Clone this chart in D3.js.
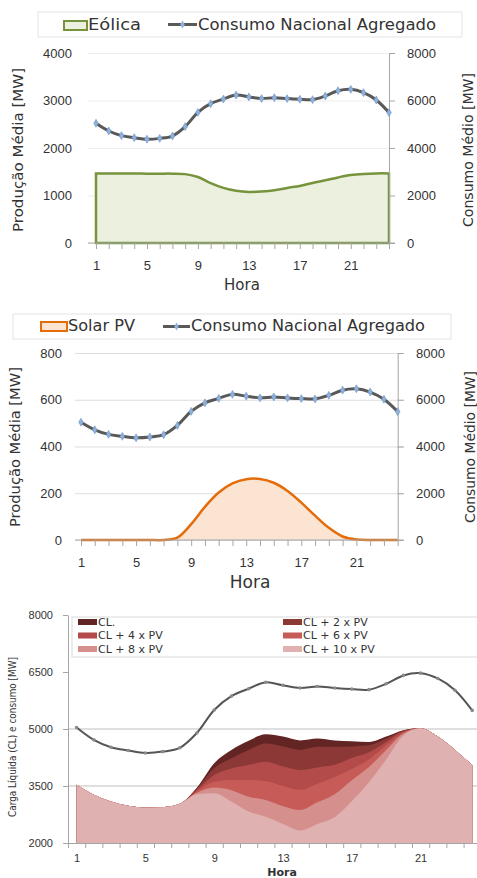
<!DOCTYPE html>
<html>
<head>
<meta charset="utf-8">
<script src="https://cdn.jsdelivr.net/npm/d3@7"></script>
<style>
  body { margin: 0; background: #fff; }
  svg { display: block; font-family: "DejaVu Sans", sans-serif; }
</style>
</head>
<body>
<svg id="chart" width="477" height="878"></svg>
<script>
// ---- data ----
const hours = [1, 2, 3, 4, 5, 6, 7, 8, 9, 10, 11, 12, 13, 14, 15, 16, 17, 18, 19, 20, 21, 22, 23, 24];
const hourLabels = [1, 5, 9, 13, 17, 21];

// Consumo Nacional Agregado [MW]
const consumo = [5040, 4715, 4520, 4435, 4370, 4405, 4505, 4900, 5500, 5865, 6060, 6230, 6150, 6080, 6120, 6080, 6050, 6035, 6190, 6410, 6470, 6330, 6020, 5490];
// Eólica [MW]
const eolica = [1465, 1465, 1465, 1462, 1460, 1460, 1460, 1450, 1390, 1260, 1160, 1100, 1075, 1085, 1110, 1160, 1200, 1265, 1320, 1380, 1430, 1455, 1465, 1465];
// Solar PV [MW]
const solarPV = [0, 0, 0, 0, 0, 0, 0, 10, 68, 142, 203, 242, 260, 261, 245, 210, 160, 104, 52, 15, 2, 0, 0, 0];

// Carga líquida series [MW]
const cl    = [3530, 3270, 3090, 2980, 2930, 2940, 3030, 3460, 4100, 4450, 4690, 4860, 4800, 4700, 4750, 4700, 4680, 4660, 4800, 4970, 5020, 4800, 4450, 4050];
const cl2pv = [3530, 3270, 3090, 2980, 2930, 2940, 3030, 3440, 3970, 4230, 4450, 4620, 4540, 4450, 4530, 4530, 4540, 4570, 4750, 4960, 5020, 4800, 4450, 4050];
const cl4pv = [3530, 3270, 3090, 2980, 2930, 2940, 3030, 3400, 3790, 3960, 4050, 4140, 4010, 3920, 3990, 4060, 4240, 4390, 4660, 4940, 5020, 4800, 4450, 4050];
const cl6pv = [3530, 3270, 3090, 2980, 2930, 2940, 3030, 3360, 3610, 3660, 3660, 3630, 3500, 3400, 3560, 3740, 3950, 4200, 4570, 4910, 5020, 4800, 4450, 4050];
const cl8pv = [3530, 3270, 3090, 2980, 2930, 2940, 3030, 3320, 3460, 3390, 3220, 3130, 2970, 2870, 3070, 3280, 3650, 4000, 4450, 4880, 5020, 4800, 4450, 4050];
const cl10pv = [3530, 3270, 3090, 2980, 2930, 2940, 3030, 3280, 3310, 3090, 2830, 2690, 2500, 2330, 2500, 2680, 3100, 3600, 4200, 4830, 5020, 4800, 4450, 4050];

const netNames = ["CL.", "CL + 2 x PV", "CL + 4 x PV", "CL + 6 x PV", "CL + 8 x PV", "CL + 10 x PV"];
const netColors = ["#632523", "#8C3836", "#B24B49", "#C65B57", "#D58F8D", "#DFB2B1"];

const ticksEolica = [0, 1000, 2000, 3000, 4000];
const ticksSolar = [0, 200, 400, 600, 800];
const ticksConsumo = [0, 2000, 4000, 6000, 8000];
const ticksCarga = [2000, 3500, 5000, 6500, 8000];

const svg = d3.select("#chart");
const textColor = "#333";
const axisGrey = "#A6A6A6";
const plain = d3.format("d");

// ---- top two panels: production (left axis) vs consumption (right axis) ----
function drawPanel(p) {
    const g = svg.append("g");

    const x = d3.scaleLinear().domain([1, 24]).range([p.left, p.right]);
    const yL = d3.scaleLinear().domain([0, p.leftMax]).range([p.bottom, p.top]);
    const yR = d3.scaleLinear().domain([0, 8000]).range([p.bottom, p.top]);

    // Gridlines + left tick labels
    const leftAxis = g.append("g")
        .attr("transform", `translate(${p.gridStart},0)`)
        .call(d3.axisLeft(yL)
            .tickValues(p.leftTicks)
            .tickFormat(plain)
            .tickSize(-(p.gridEnd - p.gridStart))
            .tickPadding(p.gridStart - p.leftLabelX));
    leftAxis.select(".domain").remove();
    leftAxis.selectAll("line").attr("stroke", p.gridColor);
    leftAxis.selectAll("text").style("font-size", "13px").attr("fill", textColor);

    // Production area (smoothed like the spreadsheet original)
    const curve = d3.curveCatmullRom.alpha(0.5);
    const area = d3.area()
        .x((d, i) => x(hours[i]))
        .y0(yL(0))
        .y1(d => yL(d))
        .curve(curve);
    g.append("path")
        .datum(p.values)
        .attr("d", area)
        .attr("fill", p.fill);
    if (p.closedOutline) {
        g.append("path")
            .datum(p.values)
            .attr("d", area)
            .attr("fill", "none")
            .attr("stroke", p.stroke)
            .attr("stroke-width", 2.5);
    } else {
        g.append("path")
            .datum(p.values)
            .attr("d", d3.line().x((d, i) => x(hours[i])).y(d => yL(d)).curve(curve))
            .attr("fill", "none")
            .attr("stroke", p.stroke)
            .attr("stroke-width", 2.5);
    }

    // Right axis (consumption)
    const rightAxis = g.append("g")
        .attr("transform", `translate(${p.right},0)`)
        .call(d3.axisRight(yR)
            .tickValues(ticksConsumo)
            .tickFormat(plain)
            .tickSize(6)
            .tickSizeOuter(0)
            .tickPadding(p.rightLabelX - p.right - 6));
    rightAxis.select(".domain").attr("stroke", axisGrey);
    rightAxis.selectAll("line").attr("stroke", axisGrey);
    rightAxis.selectAll("text").style("font-size", "13px").attr("fill", textColor);

    // x axis
    g.append("line")
        .attr("x1", p.gridStart).attr("x2", p.right + 6)
        .attr("y1", p.bottom).attr("y2", p.bottom)
        .attr("stroke", axisGrey);
    const xAxis = g.append("g")
        .attr("transform", `translate(0,${p.bottom})`)
        .call(d3.axisBottom(x)
            .tickValues(hours)
            .tickSize(6)
            .tickSizeOuter(0)
            .tickPadding(p.xLabelPad)
            .tickFormat(d => hourLabels.includes(d) ? d : ""));
    xAxis.select(".domain").remove();
    xAxis.selectAll("line").attr("stroke", axisGrey);
    xAxis.selectAll("text").style("font-size", "13px").attr("fill", textColor);

    // Consumption line with diamond markers
    const line = d3.line()
        .x((d, i) => x(hours[i]))
        .y(d => yR(d))
        .curve(curve);
    g.append("path")
        .datum(consumo)
        .attr("d", line)
        .attr("fill", "none")
        .attr("stroke", "#595959")
        .attr("stroke-width", 3);
    g.selectAll(".mk")
        .data(consumo)
        .join("path")
        .attr("transform", (d, i) => `translate(${x(hours[i])},${yR(d)})`)
        .attr("d", d3.symbol(d3.symbolDiamond, 18))
        .attr("fill", "#8FB1DA")
        .attr("stroke", "#6F96C6")
        .attr("stroke-width", 0.6);

    // Axis titles
    g.append("text")
        .attr("x", p.horaX).attr("y", p.horaY)
        .attr("text-anchor", "middle")
        .style("font-size", p.horaSize + "px")
        .attr("fill", textColor)
        .text("Hora");
    g.append("text")
        .attr("transform", `translate(${p.leftTitleX},${p.titleY}) rotate(-90)`)
        .attr("text-anchor", "middle")
        .attr("dy", "0.35em")
        .attr("textLength", p.leftTitleLen)
        .attr("lengthAdjust", "spacingAndGlyphs")
        .style("font-size", "14px")
        .attr("fill", textColor)
        .text("Produção Média [MW]");
    g.append("text")
        .attr("transform", `translate(${p.rightTitleX},${p.titleY}) rotate(-90)`)
        .attr("text-anchor", "middle")
        .attr("dy", "0.35em")
        .attr("textLength", p.rightTitleLen)
        .attr("lengthAdjust", "spacingAndGlyphs")
        .style("font-size", "14px")
        .attr("fill", textColor)
        .text("Consumo Médio [MW]");

    // Legend
    const L = p.legend;
    g.append("rect")
        .attr("x", L.box[0]).attr("y", L.box[1])
        .attr("width", L.box[2] - L.box[0]).attr("height", L.box[3] - L.box[1])
        .attr("fill", "#fff")
        .attr("stroke", "#E3E3E3");
    g.append("rect")
        .attr("x", L.swatch[0]).attr("y", L.swatch[1])
        .attr("width", L.swatch[2] - L.swatch[0]).attr("height", L.swatch[3] - L.swatch[1])
        .attr("fill", p.fill)
        .attr("stroke", p.stroke)
        .attr("stroke-width", 2);
    g.append("text")
        .attr("x", L.label1X).attr("y", L.baseline)
        .attr("textLength", L.label1Len)
        .attr("lengthAdjust", "spacingAndGlyphs")
        .style("font-size", "15px")
        .attr("fill", textColor)
        .text(p.name);
    const ly = (L.box[1] + L.box[3]) / 2;
    g.append("line")
        .attr("x1", L.lineX[0]).attr("x2", L.lineX[1])
        .attr("y1", ly).attr("y2", ly)
        .attr("stroke", "#595959")
        .attr("stroke-width", 3);
    g.append("path")
        .attr("transform", `translate(${(L.lineX[0] + L.lineX[1]) / 2},${ly})`)
        .attr("d", d3.symbol(d3.symbolDiamond, 18))
        .attr("fill", "#8FB1DA");
    g.append("text")
        .attr("x", L.label2X).attr("y", L.baseline)
        .attr("textLength", L.label2Len)
        .attr("lengthAdjust", "spacingAndGlyphs")
        .style("font-size", "15px")
        .attr("fill", textColor)
        .text("Consumo Nacional Agregado");
}

drawPanel({
    name: "Eólica", values: eolica, leftMax: 4000, leftTicks: ticksEolica,
    fill: "#EBF1DE", stroke: "#77933C", closedOutline: true, gridColor: "#EDEDED",
    left: 96, right: 389, top: 53, bottom: 243,
    gridStart: 88, gridEnd: 389, leftLabelX: 72, rightLabelX: 407,
    xLabelPad: 12, horaX: 242, horaY: 290, horaSize: 15,
    leftTitleX: 18, rightTitleX: 468, titleY: 150, leftTitleLen: 164, rightTitleLen: 154,
    legend: { box: [38, 12, 462, 37], swatch: [64, 21, 87, 30], label1X: 88, label1Len: 53,
              lineX: [168, 197], label2X: 198, label2Len: 238, baseline: 30 }
});

drawPanel({
    name: "Solar PV", values: solarPV, leftMax: 800, leftTicks: ticksSolar,
    fill: "#FCE4D3", stroke: "#E46C0A", closedOutline: false, gridColor: "#DDDDDD",
    left: 81, right: 397.7, top: 353, bottom: 540,
    gridStart: 75, gridEnd: 404, leftLabelX: 62, rightLabelX: 416,
    xLabelPad: 12, horaX: 250, horaY: 588, horaSize: 17,
    leftTitleX: 15, rightTitleX: 470, titleY: 447, leftTitleLen: 160, rightTitleLen: 152,
    legend: { box: [13, 314, 451, 339], swatch: [41, 322, 67, 331], label1X: 68, label1Len: 67,
              lineX: [163, 190], label2X: 191, label2Len: 234, baseline: 331 }
});

// ---- bottom panel: carga líquida vs consumo ----
{
    const g = svg.append("g");
    const left = 68, top = 615, bottom = 843;
    const step = 17.2;
    const x = d3.scaleLinear().domain([0.5, 24.5]).range([left, left + 24 * step]);
    const y = d3.scaleLinear().domain([2000, 8000]).range([bottom, top]);

    // Gridlines (3500 and 5000 visible in the reference)
    g.selectAll(".grid")
        .data([3500, 5000])
        .join("line")
        .attr("x1", left).attr("x2", 477)
        .attr("y1", d => y(d)).attr("y2", d => y(d))
        .attr("stroke", "#BFBFBF");

    // Overlapping net-load areas, largest first
    const series = [cl, cl2pv, cl4pv, cl6pv, cl8pv, cl10pv];
    const area = d3.area()
        .x((d, i) => x(hours[i]))
        .y0(y(2000))
        .y1(d => y(d))
        .curve(d3.curveMonotoneX);
    g.selectAll(".net")
        .data(series)
        .join("path")
        .attr("d", area)
        .attr("fill", (d, i) => netColors[i]);

    // Consumption line
    g.append("path")
        .datum(consumo)
        .attr("d", d3.line().x((d, i) => x(hours[i])).y(d => y(d)).curve(d3.curveCatmullRom.alpha(0.5)))
        .attr("fill", "none")
        .attr("stroke", "#555")
        .attr("stroke-width", 2);
    g.selectAll(".mk3")
        .data(consumo)
        .join("circle")
        .attr("cx", (d, i) => x(hours[i]))
        .attr("cy", d => y(d))
        .attr("r", 1.8)
        .attr("fill", "#8A8A8A");

    // y axis
    const yAxis = g.append("g")
        .attr("transform", `translate(${left},0)`)
        .call(d3.axisLeft(y).tickValues(ticksCarga).tickFormat(plain).tickSize(5).tickSizeOuter(0).tickPadding(10));
    yAxis.select(".domain").attr("stroke", axisGrey);
    yAxis.selectAll("line").attr("stroke", axisGrey);
    yAxis.selectAll("text").style("font-size", "11px").attr("fill", textColor);

    // x axis: ticks between categories, labels on category centres
    const xTicks = g.append("g")
        .attr("transform", `translate(0,${bottom})`)
        .call(d3.axisBottom(x).tickValues(hours.map(h => h - 0.5)).tickSize(5).tickSizeOuter(0).tickFormat(""));
    xTicks.select(".domain").attr("stroke", axisGrey);
    xTicks.selectAll("line").attr("stroke", axisGrey);
    const xLabels = g.append("g")
        .attr("transform", `translate(0,${bottom})`)
        .call(d3.axisBottom(x).tickValues(hourLabels).tickSize(0).tickPadding(11));
    xLabels.select(".domain").remove();
    xLabels.selectAll("text").style("font-size", "11px").attr("fill", textColor);

    g.append("text")
        .attr("x", 282).attr("y", 876)
        .attr("text-anchor", "middle")
        .style("font-size", "11px")
        .style("font-weight", "bold")
        .attr("fill", textColor)
        .text("Hora");
    g.append("text")
        .attr("transform", `translate(12,737) rotate(-90)`)
        .attr("text-anchor", "middle")
        .attr("dy", "0.35em")
        .attr("textLength", 160)
        .attr("lengthAdjust", "spacingAndGlyphs")
        .style("font-size", "11px")
        .attr("fill", textColor)
        .text("Carga Líquida (CL) e consumo [MW]");

    // Legend (two columns, three rows)
    g.append("rect")
        .attr("x", 72).attr("y", 617)
        .attr("width", 410).attr("height", 40)
        .attr("fill", "#fff")
        .attr("stroke", "#D9D9D9");
    const items = g.selectAll(".leg")
        .data(netNames)
        .join("g")
        .attr("transform", (d, i) => `translate(${i % 2 === 0 ? 78 : 283},${622 + Math.floor(i / 2) * 13.5})`);
    items.append("rect")
        .attr("x", 0).attr("y", -3)
        .attr("width", 19).attr("height", 6)
        .attr("fill", (d, i) => netColors[i]);
    items.append("text")
        .attr("x", 20).attr("dy", "0.35em")
        .style("font-size", "11px")
        .attr("fill", textColor)
        .text(d => d);
}
</script>
</body>
</html>
